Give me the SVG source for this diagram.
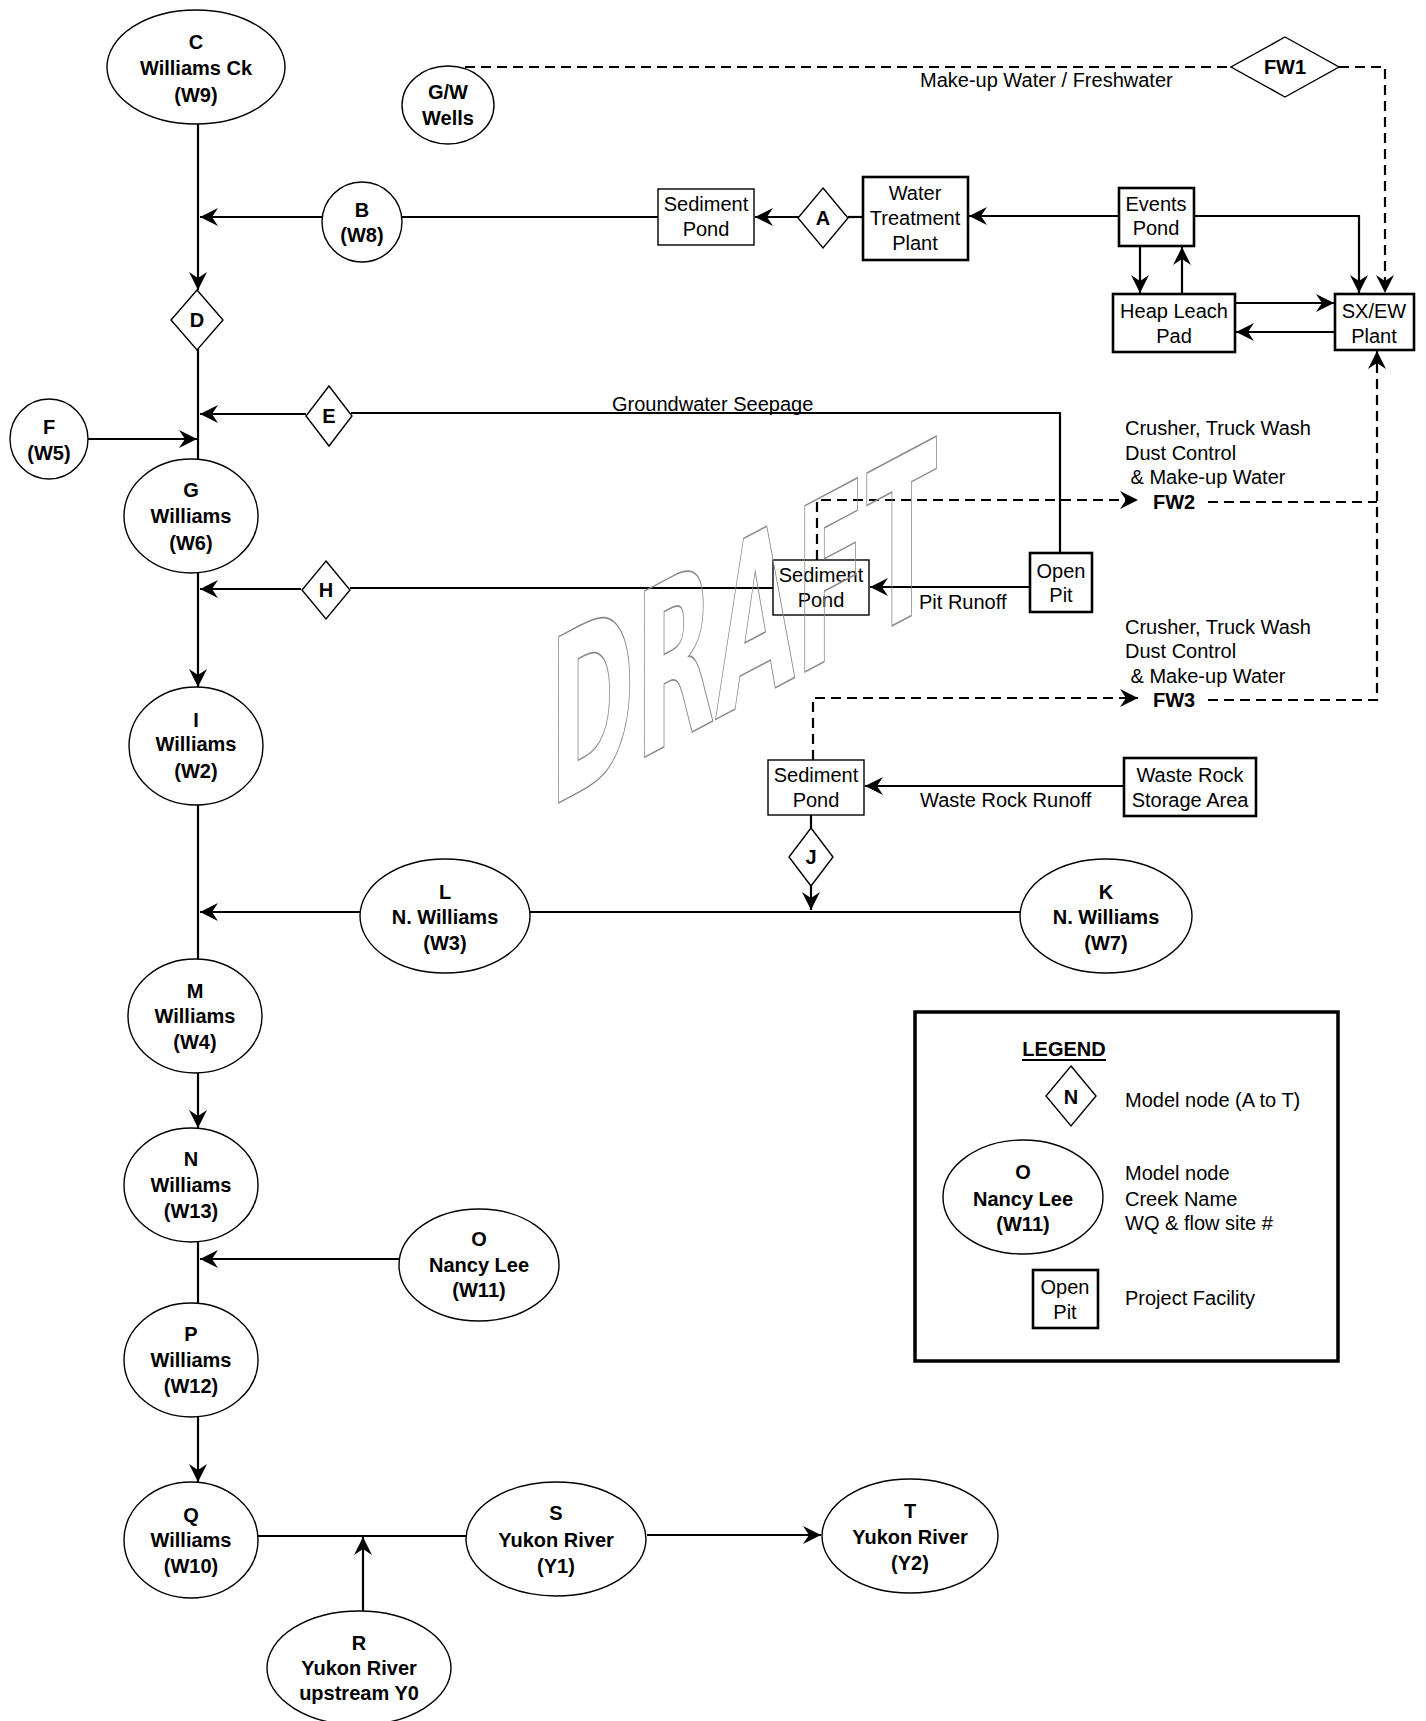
<svg xmlns="http://www.w3.org/2000/svg" width="1426" height="1721" viewBox="0 0 1426 1721">
<style>
.n{fill:#fff;stroke:#000;stroke-width:1.4}
.bx{fill:#fff;stroke:#000;stroke-width:2.6}
.bt{fill:#fff;stroke:#000;stroke-width:1.4}
.c{fill:none;stroke:#000;stroke-width:2.2}
.d{fill:none;stroke:#000;stroke-width:2.2;stroke-dasharray:10 6}
.tb{font-family:'Liberation Sans',Arial,sans-serif;font-weight:bold;font-size:20px;text-anchor:middle;fill:#000}
.tm{font-family:'Liberation Sans',Arial,sans-serif;font-size:20px;text-anchor:middle;fill:#000}
.t{font-family:'Liberation Sans',Arial,sans-serif;font-size:20px;fill:#000}
.tbl{font-family:'Liberation Sans',Arial,sans-serif;font-weight:bold;font-size:20px;fill:#000}
</style>
<defs>
<marker id="arr" markerUnits="userSpaceOnUse" markerWidth="18" markerHeight="18" viewBox="0 0 18 18" refX="18" refY="9" orient="auto">
<path d="M18,9 L0,0 L6,9 L0,18 Z" fill="#000"/>
</marker>
</defs>
<rect width="1426" height="1721" fill="#fff"/>

<g id="connectors">
<path class="c" d="M198,124 V290" marker-end="url(#arr)"/>
<path class="c" d="M322,217 H200" marker-end="url(#arr)"/>
<path class="c" d="M658,217 H401"/>
<path class="c" d="M799,217 H755" marker-end="url(#arr)"/>
<path class="c" d="M863,217 H848"/>
<path class="c" d="M1119,216 H969" marker-end="url(#arr)"/>
<path class="c" d="M1194,216 H1359 V293" marker-end="url(#arr)"/>
<path class="c" d="M1140,246 V293" marker-end="url(#arr)"/>
<path class="c" d="M1182,294 V247" marker-end="url(#arr)"/>
<path class="c" d="M1235,303 H1334" marker-end="url(#arr)"/>
<path class="c" d="M1335,332 H1236" marker-end="url(#arr)"/>
<path class="c" d="M198,349 V459"/>
<path class="c" d="M306,414 H200" marker-end="url(#arr)"/>
<path class="c" d="M88,439 H197" marker-end="url(#arr)"/>
<path class="c" d="M1060,553 V413 H351"/>
<path class="c" d="M198,573 V687" marker-end="url(#arr)"/>
<path class="c" d="M301,589 H200" marker-end="url(#arr)"/>
<path class="c" d="M773,588 H350"/>
<path class="c" d="M1030,587 H870" marker-end="url(#arr)"/>
<path class="c" d="M198,805 V959"/>
<path class="c" d="M360,912 H200" marker-end="url(#arr)"/>
<path class="c" d="M1020,912 H530"/>
<path class="c" d="M811,886 V910" marker-end="url(#arr)"/>
<path class="c" d="M811,815 V828"/>
<path class="c" d="M1124,786 H865" marker-end="url(#arr)"/>
<path class="c" d="M198,1073 V1128" marker-end="url(#arr)"/>
<path class="c" d="M198,1242 V1303"/>
<path class="c" d="M400,1259 H200" marker-end="url(#arr)"/>
<path class="c" d="M198,1417 V1482" marker-end="url(#arr)"/>
<path class="c" d="M257,1536 H466"/>
<path class="c" d="M363,1611 V1537" marker-end="url(#arr)"/>
<path class="c" d="M647,1535 H821" marker-end="url(#arr)"/>
<path class="d" d="M465,67 H1231"/>
<path class="d" d="M1339,67 H1385 V293" marker-end="url(#arr)"/>
<path class="d" d="M817,560 V500 H1138" marker-end="url(#arr)"/>
<path class="d" d="M1208,502 H1377"/>
<path class="d" d="M813,760 V698 H1138" marker-end="url(#arr)"/>
<path class="d" d="M1208,700 H1377 V351" marker-end="url(#arr)"/>
</g>

<g id="labels">
<text class="t" x="920" y="87">Make-up Water / Freshwater</text>
<text class="t" x="612" y="411">Groundwater Seepage</text>
<text class="t" x="1125" y="435">Crusher, Truck Wash</text>
<text class="t" x="1125" y="460">Dust Control</text>
<text class="t" x="1125" y="484" xml:space="preserve"> &amp; Make-up Water</text>
<text class="tbl" x="1153" y="509">FW2</text>
<text class="t" x="1125" y="634">Crusher, Truck Wash</text>
<text class="t" x="1125" y="658">Dust Control</text>
<text class="t" x="1125" y="683" xml:space="preserve"> &amp; Make-up Water</text>
<text class="tbl" x="1153" y="707">FW3</text>
<text class="t" x="919" y="609">Pit Runoff</text>
<text class="t" x="920" y="807">Waste Rock Runoff</text>
</g>

<g id="node-C"><ellipse class="n" cx="196" cy="67" rx="89" ry="57"/>
<text class="tb" x="196" y="49">C</text><text class="tb" x="196" y="75">Williams Ck</text><text class="tb" x="196" y="102">(W9)</text></g>
<g id="node-GW"><ellipse class="n" cx="448" cy="105" rx="46" ry="39"/>
<text class="tb" x="448" y="99">G/W</text><text class="tb" x="448" y="125">Wells</text></g>
<g id="node-B"><ellipse class="n" cx="362" cy="222" rx="40" ry="40"/>
<text class="tb" x="362" y="217">B</text><text class="tb" x="362" y="242">(W8)</text></g>
<g id="node-D"><path class="n" d="M197,290 L223,320 L197,350 L171,320 Z"/><text class="tb" x="197" y="327">D</text></g>
<g id="node-A"><path class="n" d="M823,188 L848,218 L823,248 L798,218 Z"/><text class="tb" x="823" y="225">A</text></g>
<g id="node-E"><path class="n" d="M329,386 L352,416 L329,446 L306,416 Z"/><text class="tb" x="329" y="423">E</text></g>
<g id="node-H"><path class="n" d="M326,561 L350,590 L326,619 L302,590 Z"/><text class="tb" x="326" y="597">H</text></g>
<g id="node-J"><path class="n" d="M811,828 L833,857 L811,886 L789,857 Z"/><text class="tb" x="811" y="864">J</text></g>
<g id="node-FW1"><path class="n" d="M1285,37 L1339,67 L1285,97 L1231,67 Z"/><text class="tb" x="1285" y="74">FW1</text></g>
<g id="node-F"><ellipse class="n" cx="49" cy="439" rx="39" ry="40"/>
<text class="tb" x="49" y="434">F</text><text class="tb" x="49" y="460">(W5)</text></g>
<g id="node-G"><ellipse class="n" cx="191" cy="516" rx="67" ry="57"/>
<text class="tb" x="191" y="497">G</text><text class="tb" x="191" y="523">Williams</text><text class="tb" x="191" y="550">(W6)</text></g>
<g id="node-I"><ellipse class="n" cx="196" cy="746" rx="67" ry="59"/>
<text class="tb" x="196" y="727">I</text><text class="tb" x="196" y="751">Williams</text><text class="tb" x="196" y="778">(W2)</text></g>
<g id="node-L"><ellipse class="n" cx="445" cy="916" rx="85" ry="57"/>
<text class="tb" x="445" y="899">L</text><text class="tb" x="445" y="924">N. Williams</text><text class="tb" x="445" y="950">(W3)</text></g>
<g id="node-K"><ellipse class="n" cx="1106" cy="916" rx="86" ry="57"/>
<text class="tb" x="1106" y="899">K</text><text class="tb" x="1106" y="924">N. Williams</text><text class="tb" x="1106" y="950">(W7)</text></g>
<g id="node-M"><ellipse class="n" cx="195" cy="1016" rx="67" ry="57"/>
<text class="tb" x="195" y="998">M</text><text class="tb" x="195" y="1023">Williams</text><text class="tb" x="195" y="1049">(W4)</text></g>
<g id="node-N"><ellipse class="n" cx="191" cy="1185" rx="67" ry="57"/>
<text class="tb" x="191" y="1166">N</text><text class="tb" x="191" y="1192">Williams</text><text class="tb" x="191" y="1218">(W13)</text></g>
<g id="node-O"><ellipse class="n" cx="479" cy="1265" rx="80" ry="56"/>
<text class="tb" x="479" y="1246">O</text><text class="tb" x="479" y="1272">Nancy Lee</text><text class="tb" x="479" y="1297">(W11)</text></g>
<g id="node-P"><ellipse class="n" cx="191" cy="1360" rx="67" ry="57"/>
<text class="tb" x="191" y="1341">P</text><text class="tb" x="191" y="1367">Williams</text><text class="tb" x="191" y="1393">(W12)</text></g>
<g id="node-Q"><ellipse class="n" cx="191" cy="1540" rx="67" ry="58"/>
<text class="tb" x="191" y="1522">Q</text><text class="tb" x="191" y="1547">Williams</text><text class="tb" x="191" y="1573">(W10)</text></g>
<g id="node-S"><ellipse class="n" cx="556" cy="1539" rx="90" ry="57"/>
<text class="tb" x="556" y="1520">S</text><text class="tb" x="556" y="1547">Yukon River</text><text class="tb" x="556" y="1573">(Y1)</text></g>
<g id="node-T"><ellipse class="n" cx="910" cy="1536" rx="88" ry="57"/>
<text class="tb" x="910" y="1518">T</text><text class="tb" x="910" y="1544">Yukon River</text><text class="tb" x="910" y="1570">(Y2)</text></g>
<g id="node-R"><ellipse class="n" cx="359" cy="1668" rx="92" ry="57"/>
<text class="tb" x="359" y="1650">R</text><text class="tb" x="359" y="1675">Yukon River</text><text class="tb" x="359" y="1700">upstream Y0</text></g>

<g id="box-sed1"><rect class="bt" x="658" y="189" width="96" height="56"/>
<text class="tm" x="706" y="211">Sediment</text><text class="tm" x="706" y="236">Pond</text></g>
<g id="box-wtp"><rect class="bx" x="863" y="177" width="105" height="83"/>
<text class="tm" x="915" y="200">Water</text><text class="tm" x="915" y="225">Treatment</text><text class="tm" x="915" y="250">Plant</text></g>
<g id="box-events"><rect class="bx" x="1119" y="188" width="75" height="58"/>
<text class="tm" x="1156" y="211">Events</text><text class="tm" x="1156" y="235">Pond</text></g>
<g id="box-heap"><rect class="bx" x="1113" y="294" width="122" height="58"/>
<text class="tm" x="1174" y="318">Heap Leach</text><text class="tm" x="1174" y="343">Pad</text></g>
<g id="box-sxew"><rect class="bx" x="1335" y="294" width="79" height="56"/>
<text class="tm" x="1374" y="318">SX/EW</text><text class="tm" x="1374" y="343">Plant</text></g>
<g id="box-sed2"><rect class="bt" x="773" y="560" width="96" height="55"/>
<text class="tm" x="821" y="582">Sediment</text><text class="tm" x="821" y="607">Pond</text></g>
<g id="box-pit"><rect class="bx" x="1030" y="553" width="62" height="59"/>
<text class="tm" x="1061" y="578">Open</text><text class="tm" x="1061" y="602">Pit</text></g>
<g id="box-sed3"><rect class="bt" x="768" y="760" width="96" height="55"/>
<text class="tm" x="816" y="782">Sediment</text><text class="tm" x="816" y="807">Pond</text></g>
<g id="box-waste"><rect class="bx" x="1124" y="758" width="132" height="58"/>
<text class="tm" x="1190" y="782">Waste Rock</text><text class="tm" x="1190" y="807">Storage Area</text></g>

<g id="legend">
<rect x="915" y="1012" width="423" height="349" fill="none" stroke="#000" stroke-width="3.5"/>
<text class="tb" x="1064" y="1056">LEGEND</text>
<line x1="1022" y1="1060" x2="1106" y2="1060" stroke="#000" stroke-width="2"/>
<path class="n" d="M1071,1066 L1096,1096 L1071,1126 L1046,1096 Z"/><text class="tb" x="1071" y="1104">N</text>
<text class="t" x="1125" y="1107">Model node (A to T)</text>
<ellipse class="n" cx="1023" cy="1197" rx="80" ry="57"/>
<text class="tb" x="1023" y="1179">O</text><text class="tb" x="1023" y="1206">Nancy Lee</text><text class="tb" x="1023" y="1231">(W11)</text>
<text class="t" x="1125" y="1180">Model node</text>
<text class="t" x="1125" y="1206">Creek Name</text>
<text class="t" x="1125" y="1230">WQ &amp; flow site #</text>
<rect class="bx" x="1033" y="1270" width="65" height="58"/>
<text class="tm" x="1065" y="1294">Open</text><text class="tm" x="1065" y="1319">Pit</text>
<text class="t" x="1125" y="1305">Project Facility</text>
</g>

<g id="watermark">
<text transform="translate(549,808) skewY(-28) scale(0.455,1)" font-family="'DejaVu Sans',sans-serif" font-weight="bold" font-size="228" fill="none" stroke="#8a8a8a" stroke-width="1.3" vector-effect="non-scaling-stroke">DRAFT</text>
</g>
</svg>
